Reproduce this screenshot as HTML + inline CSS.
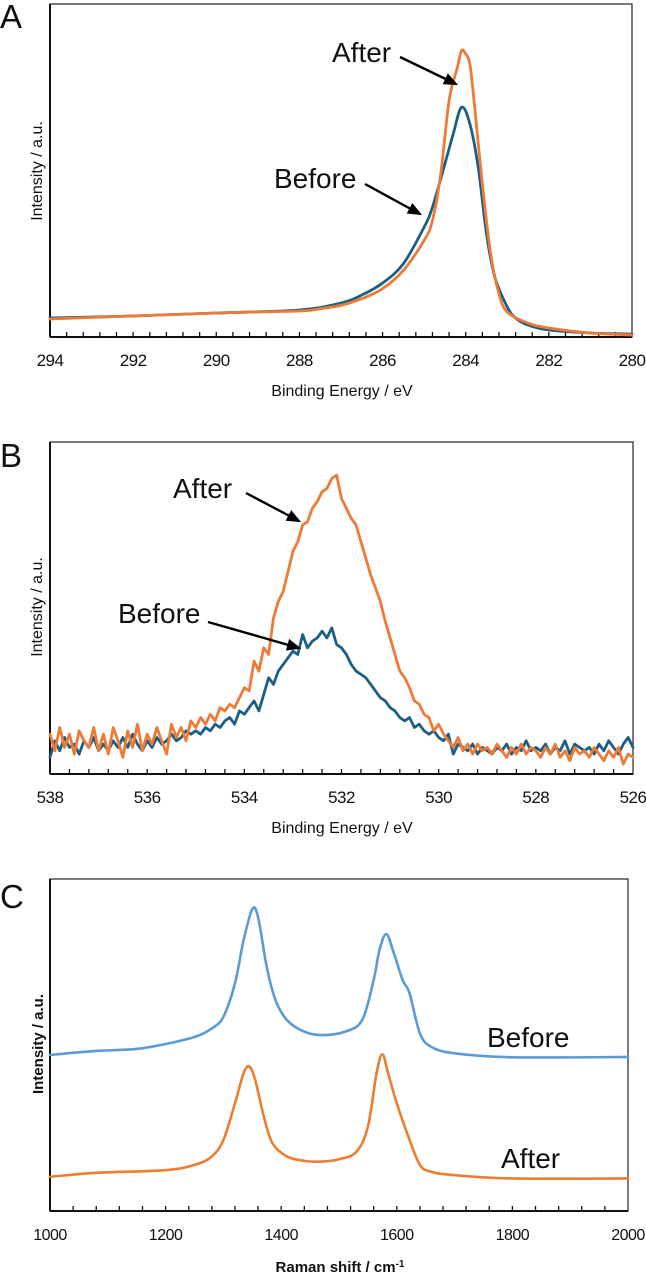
<!DOCTYPE html>
<html><head><meta charset="utf-8">
<style>
html,body{margin:0;padding:0;background:#fff;}
svg{display:block;font-family:"Liberation Sans",sans-serif;}
</style></head>
<body>
<svg id="fig" width="646" height="1276" viewBox="0 0 646 1276"></svg>
<script>
// ---------- Panel A data (XPS C1s) ----------
const aBeforeE = [294,292,290,288,287,286.5,286,285.5,285,284.8,284.5,284.3,284.1,283.9,283.7,283.5,283.3,283.0,282.8,282.5,282,281,280];
const aBeforeI = [5.7,6.3,7.2,8.1,10.2,12.6,16.2,22,33,39,52,61,69,64,51,31,18,9,5.7,3.6,2.1,1.2,0.9];
const aAfterE = [294,290,288,287.5,287,286.5,286,285.5,285,284.8,284.6,284.4,284.2,284.1,284.0,283.9,283.8,283.6,283.4,283.2,283.0,282.5,282,281,280];
const aAfterI = [5.4,7.2,7.8,8.5,9.5,11.5,14.5,20,29,35,49,71,81,86,85,82,71,46,25,13,7.5,4.2,2.7,1.2,0.6];
const aTicks = ["294","292","290","288","286","284","282","280"];

// ---------- Panel B data (XPS O1s), 538 -> 526 step 0.1 ----------
const bStart = 538, bStep = -0.1;
const bAfterI = [12,7,14,8,12,6,13,10,8,14,7,
 12,6,14,10,5,13,8,15,7,12,
 9,14,10,6,15,11,14,10,16,14,
 17,15,18,16,20,19,21,20,23,26,
 25,34,31,38,36,47,52,55,61,67,
 70,75,76,80,82,85,86,89,90,83,
 80,77,75,70,65,60,56,52,46,41,
 36,31,29,26,22,21,18,17,13,15,
 12,10,8,11,7,9,6,9,7,8,
 6,9,7,5,8,6,9,6,8,7,
 5,8,6,9,5,7,4,8,6,7,
 5,8,6,4,7,5,8,3,6,5];
const bBeforeI = [5,10,7,11,8,9,6,10,8,11,7,
 9,7,10,8,11,8,12,9,7,10,
 8,11,9,10,12,10,11,13,12,13,
 12,14,13,15,14,16,17,15,19,18,
 20,22,19,24,29,27,31,33,35,37,
 36,42,38,40,41,43,41,44,39,38,
 36,33,31,30,29,27,25,23,22,20,
 19,17,16,17,14,15,13,12,13,11,
 10,12,6,9,8,7,9,6,8,7,
 6,8,7,9,6,8,7,10,7,8,
 7,9,6,8,7,10,6,9,8,7,
 8,6,9,7,10,8,6,9,11,8];
const bTicks = ["538","536","534","532","530","528","526"];

// ---------- Panel C data (Raman) ----------
const cBeforeX = [1000,1080,1150,1200,1250,1280,1300,1320,1335,1350,1360,1375,1390,1410,1440,1470,1510,1540,1560,1570,1582,1595,1610,1622,1640,1660,1700,1800,2000];
const cBeforeI = [47,48.2,48.8,50.3,52.4,55,58.5,68.6,81.6,90.9,88.5,73.5,63.6,57.5,54,53,54,57.5,69.6,78.6,83.4,77.6,69.6,65.6,53.5,49.4,47.5,46.3,46.4];
const cAfterX = [1000,1080,1200,1250,1280,1300,1320,1335,1345,1355,1370,1385,1410,1440,1470,1500,1530,1550,1565,1575,1585,1600,1620,1640,1660,1700,1800,2000];
const cAfterI = [10.3,11.5,12.3,13.9,16.4,21.4,32.4,41.5,43.5,39.5,28.4,20.4,16.4,15.1,14.9,15.6,17.8,25.4,41.5,47.2,41.5,32.4,22.4,13.9,11.8,10.8,9.8,9.8];
const cTicks = ["1000","1200","1400","1600","1800","2000"];

const NS = "http://www.w3.org/2000/svg";
const svg = document.getElementById('fig');
function mk(tag, attrs, parent){
  const e = document.createElementNS(NS, tag);
  for (const k in attrs) e.setAttribute(k, attrs[k]);
  (parent||svg).appendChild(e);
  return e;
}
function linScale(d0,d1,r0,r1){return v => r0 + (v-d0)/(d1-d0)*(r1-r0);}
function smoothPath(pts){
  let d = "M"+pts[0][0].toFixed(2)+","+pts[0][1].toFixed(2);
  for(let i=0;i<pts.length-1;i++){
    const p0=pts[Math.max(0,i-1)],p1=pts[i],p2=pts[i+1],p3=pts[Math.min(pts.length-1,i+2)];
    const c1=[p1[0]+(p2[0]-p0[0])/6,p1[1]+(p2[1]-p0[1])/6];
    const c2=[p2[0]-(p3[0]-p1[0])/6,p2[1]-(p3[1]-p1[1])/6];
    d+=" C"+c1[0].toFixed(2)+","+c1[1].toFixed(2)+" "+c2[0].toFixed(2)+","+c2[1].toFixed(2)+" "+p2[0].toFixed(2)+","+p2[1].toFixed(2);
  }
  return d;
}
function linePath(pts){return "M"+pts.map(p=>p[0].toFixed(2)+","+p[1].toFixed(2)).join(" L");}

function panel(cfg){
  const g = mk('g',{});
  
  
  const {L,R,T,B} = cfg;
  const x = linScale(cfg.x0,cfg.x1,L,R);
  const y = linScale(0,100,B,T);
  const fr = mk('rect',{x:L,y:T,width:R-L,height:B-T,fill:'none',stroke:'#222','stroke-width':1.2},g);
  
  
  const ax = mk('line',{x1:L,y1:B,x2:R,y2:B,stroke:'#111','stroke-width':2},g);
  
  
  const ayl = mk('line',{x1:L,y1:T,x2:L,y2:B,stroke:'#111','stroke-width':2},g);
  
  
  const labs = cfg.ticks;
  const v0 = parseFloat(labs[0]), v1 = parseFloat(labs[labs.length-1]);
  const nMinor = (labs.length-1)*5;
  for(let i=1;i<nMinor;i++){
    const v = v0 + (v1-v0)*i/nMinor;
    const tk = mk('line',{x1:x(v),y1:B,x2:x(v),y2:B-5,stroke:'#111','stroke-width':1.3},g);
    
    
  }
  labs.forEach(s=>{
    const t = mk('text',{x:x(parseFloat(s)),y:B+29,'text-anchor':'middle','font-size':cfg.tickFont,fill:'#111','letter-spacing':'-0.5'},g);
    t.textContent = s;
    
    
  });
  cfg.series.forEach(s=>{
    const pts = s.xs.map((v,i)=>[x(v), y(s.ys[i])]);
    const p = mk('path',{d: s.smooth?smoothPath(pts):linePath(pts),fill:'none',stroke:s.color,'stroke-width':s.w,'stroke-linejoin':'round','stroke-linecap':'round'},g);
    
    
  });
  const xt = mk('text',{x:cfg.xtX,y:cfg.xtY,'text-anchor':'middle','font-size':cfg.titleFont,'font-weight':cfg.bold?'bold':'normal',fill:'#111'},g);
  xt.innerHTML = cfg.xTitle;
  
  
  const yt = mk('text',{x:0,y:0,'text-anchor':'middle','font-size':cfg.titleFont,'font-weight':cfg.bold?'bold':'normal',fill:'#111',transform:'translate('+cfg.ytX+','+cfg.ytY+') rotate(-90)'},g);
  yt.textContent = 'Intensity / a.u.';
  
  
  const pl = mk('text',{x:0,y:cfg.letterY,'font-size':33,fill:'#111','font-weight':'normal'},g);
  pl.textContent = cfg.letter;
  
  
  return g;
}

const defs = mk('defs',{});
const mkr = mk('marker',{id:'ah',markerWidth:6,markerHeight:5,refX:5,refY:2.5,orient:'auto',markerUnits:'strokeWidth'},defs);
mk('path',{d:'M0,0 L6,2.5 L0,5 Z',fill:'#000'},mkr);

function label(txt,xp,yp,size,name){
  const t = mk('text',{x:xp,y:yp,'font-size':size,fill:'#111'});
  t.textContent = txt;
  
  
}
function arrow(x1,y1,x2,y2,name){
  const a = mk('line',{x1:x1,y1:y1,x2:x2,y2:y2,stroke:'#000','stroke-width':2.4,'marker-end':'url(#ah)'});
  
  
}

panel({name:'panel-a',letter:'A',letterY:28,L:50,R:632,T:4,B:337,x0:294,x1:280,ticks:aTicks,tickFont:17,titleFont:16,
  xTitle:'Binding Energy / eV',xtX:342,xtY:396,ytX:42,ytY:171,
  series:[
    {name:'before-line-a',xs:aBeforeE,ys:aBeforeI,color:'#1c5f85',w:2.8,smooth:true},
    {name:'after-line-a',xs:aAfterE,ys:aAfterI,color:'#ee7a36',w:2.8,smooth:true}
  ]});
label('After',332,62,28,'after-annotation-a');
arrow(400,57,456,84,'after-arrow-a');
label('Before',274,188,28,'before-annotation-a');
arrow(365,184,420,214,'before-arrow-a');

const bE = bAfterI.map((_,i)=>+(bStart+i*bStep).toFixed(1));
panel({name:'panel-b',letter:'B',letterY:467,L:50,R:633,T:442,B:774,x0:538,x1:526,ticks:bTicks,tickFont:17,titleFont:16,
  xTitle:'Binding Energy / eV',xtX:342,xtY:833,ytX:42,ytY:607,
  series:[
    {name:'before-line-b',xs:bE,ys:bBeforeI,color:'#1c5f85',w:2.8,smooth:false},
    {name:'after-line-b',xs:bE,ys:bAfterI,color:'#ee7a36',w:2.8,smooth:false}
  ]});
label('After',173,498,28,'after-annotation-b');
arrow(246,493,299,521,'after-arrow-b');
label('Before',118,623,28,'before-annotation-b');
arrow(208,622,299,648,'before-arrow-b');

panel({name:'panel-c',letter:'C',letterY:908,L:50,R:628,T:879,B:1211,x0:1000,x1:2000,ticks:cTicks,tickFont:16,titleFont:15,bold:true,
  xTitle:'Raman shift / cm<tspan baseline-shift="super" font-size="10">-1</tspan>',xtX:340,xtY:1272,ytX:43,ytY:1044,
  series:[
    {name:'before-line-c',xs:cBeforeX,ys:cBeforeI,color:'#5b9bd5',w:2.6,smooth:true},
    {name:'after-line-c',xs:cAfterX,ys:cAfterI,color:'#ed7d31',w:2.6,smooth:true}
  ]});
label('Before',487,1047,28,'before-annotation-c');
label('After',501,1168,28,'after-annotation-c');
</script>
</body></html>
